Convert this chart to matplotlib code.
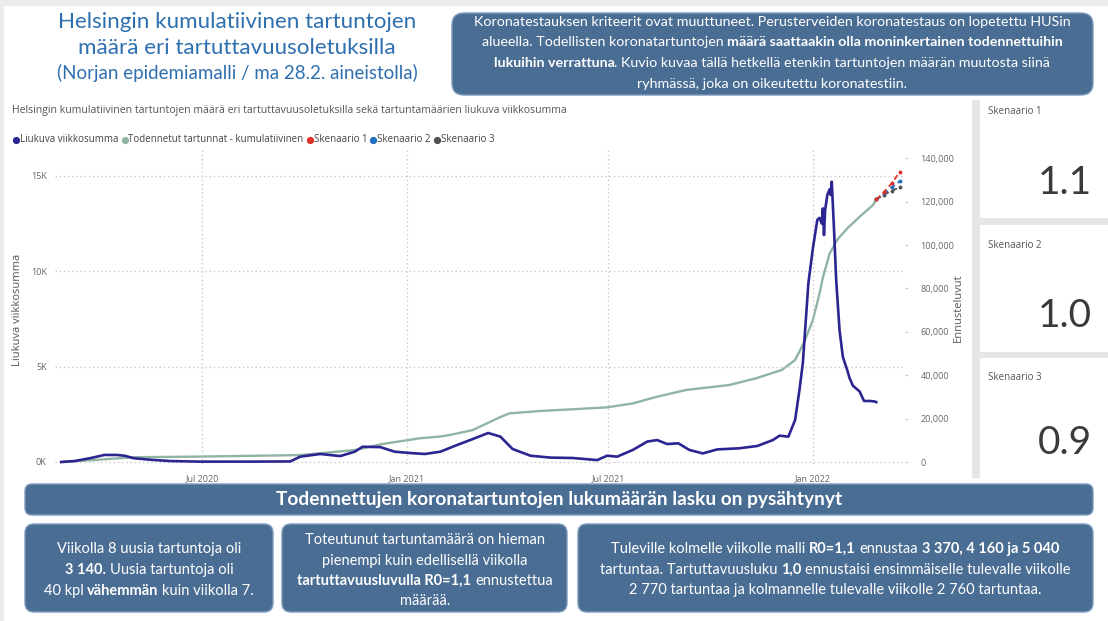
import numpy as np
import pandas as pd
import matplotlib
matplotlib.use("Agg")
import matplotlib.pyplot as plt
import matplotlib.dates as mdates
from matplotlib.patches import FancyBboxPatch, Rectangle
from matplotlib.ticker import FuncFormatter, FixedLocator

#-------------------------------------------------------------
# data
#-------------------------------------------------------------
week_dates = ["2020-02-25", "2020-03-08", "2020-03-22", "2020-04-04", "2020-04-15", "2020-04-22",
              "2020-04-30", "2020-05-15", "2020-06-02", "2020-06-29", "2020-08-13", "2020-09-18",
              "2020-09-27", "2020-10-15", "2020-11-02", "2020-11-15", "2020-11-22", "2020-12-08",
              "2020-12-21", "2021-01-04", "2021-01-17", "2021-01-31", "2021-02-15", "2021-03-01",
              "2021-03-15", "2021-03-26", "2021-04-06", "2021-04-22", "2021-05-10", "2021-05-30",
              "2021-06-21", "2021-06-30", "2021-07-09", "2021-07-23", "2021-08-05", "2021-08-14",
              "2021-08-23", "2021-09-02", "2021-09-12", "2021-09-24", "2021-10-07", "2021-10-27",
              "2021-11-12", "2021-11-26", "2021-12-02", "2021-12-10", "2021-12-16", "2021-12-20",
              "2021-12-23", "2021-12-25", "2021-12-28", "2022-01-01", "2022-01-05", "2022-01-07",
              "2022-01-09", "2022-01-10", "2022-01-11", "2022-01-12", "2022-01-14", "2022-01-16",
              "2022-01-17", "2022-01-18", "2022-01-20", "2022-01-22", "2022-01-25", "2022-01-28",
              "2022-02-01", "2022-02-03", "2022-02-06", "2022-02-12", "2022-02-16", "2022-02-21",
              "2022-02-25", "2022-02-27"]
week_sum = [0, 50, 200, 370, 370, 330,
            200, 120, 50, 20, 20, 30,
            280, 420, 310, 540, 800, 780,
            540, 470, 420, 540, 890, 1200,
            1520, 1330, 680, 330, 230, 210,
            100, 330, 280, 630, 1070, 1150,
            940, 980, 630, 450, 660, 720,
            840, 1150, 1380, 1330, 2200, 3800,
            5200, 6900, 9400, 11200, 12700, 12800,
            12500, 13300, 11900, 13200, 14000, 14300,
            14000, 14700, 12200, 9500, 6900, 5500,
            4800, 4400, 4000, 3700, 3200, 3200,
            3180, 3140]

cum_dates = ["2020-02-25", "2020-03-31", "2020-04-30", "2020-06-29", "2020-09-27", "2020-11-15",
             "2020-12-10", "2021-01-12", "2021-01-30", "2021-02-08", "2021-03-01", "2021-03-25",
             "2021-04-03", "2021-04-30", "2021-05-30", "2021-06-30", "2021-07-23", "2021-08-14",
             "2021-09-09", "2021-10-18", "2021-11-11", "2021-12-04", "2021-12-16", "2021-12-24",
             "2022-01-01", "2022-01-07", "2022-01-10", "2022-01-16", "2022-01-23", "2022-02-01",
             "2022-02-12", "2022-02-24", "2022-02-27"]
cum_cases = [0, 1100, 2200, 2500, 3200, 5500,
             8300, 10900, 11700, 12400, 14700, 20500,
             22400, 23500, 24300, 25200, 27000, 30100,
             33200, 35500, 38600, 42400, 47000, 55000,
             65400, 77700, 85000, 96000, 102500, 107700,
             113000, 118400, 121000]

scen_dates = ["2022-02-27", "2022-03-06", "2022-03-13", "2022-03-20"]
scen_1 = [121000, 124370, 128530, 133570]
scen_2 = [121000, 123770, 126600, 129360]
scen_3 = [121000, 123200, 125000, 126600]

scen_names = ["Skenaario 1", "Skenaario 2", "Skenaario 3"]
scen_r0 = ["1.1", "1.0", "0.9"]

left_ticks = [0, 5000, 10000, 15000]
right_ticks = [0, 20000, 40000, 60000, 80000, 100000, 120000, 140000]
x_ticks = ["2020-07-01", "2021-01-01", "2021-07-01", "2022-01-01"]
x_ticklabels = ["Jul 2020", "Jan 2021", "Jul 2021", "Jan 2022"]

#-------------------------------------------------------------
# styles
#-------------------------------------------------------------
W, H = 1108, 621
CAL = ["Lato", "DejaVu Sans"]        # stands in for Calibri
UI = ["Open Sans", "DejaVu Sans"]    # stands in for Segoe UI
plt.rcParams["font.family"] = UI
C_WEEK = "#2c2591"
C_CUM = "#8fb4a2"
C_S1 = "#e0302a"
C_S2 = "#1f70c1"
C_S3 = "#505050"
BOX = "#4a6d94"
BOX_EDGE = "#7d9bbd"
GRID = "#c9c9c9"

fig = plt.figure(figsize=(W / 100, H / 100), dpi=100, facecolor="white")

# overlay in pixel coords for boxes / text
ov = fig.add_axes([0, 0, 1, 1])
ov.set_xlim(0, W)
ov.set_ylim(H, 0)
ov.axis("off")
renderer = fig.canvas.get_renderer()

ov.add_patch(Rectangle((0, 0), W, 6, color="#ececec", lw=0))
ov.add_patch(Rectangle((0, 0), 4, H, color="#ececec", lw=0))


def box(x0, y0, x1, y1, r=9):
    ov.add_patch(FancyBboxPatch((x0 + r, y0 + r), x1 - x0 - 2 * r, y1 - y0 - 2 * r,
                                boxstyle="round,pad=%d" % r, fc=BOX, ec=BOX_EDGE, lw=1.0))


def tw(s, size, bold, family):
    t = ov.text(0, 0, "|" + s + "|", fontsize=size, family=family,
                fontweight="bold" if bold else "normal")
    w = t.get_window_extent(renderer).width
    t.remove()
    return w


def line_width(parts, size, family):
    bars = {b: tw("", size, b, family) for b in (False, True)}
    return sum(tw(s, size, b, family) - bars[b] for s, b in parts)


def fit(parts, target, family=CAL):
    # font size that makes this line as wide as in the reference
    return 10.0 * target / line_width(parts, 10.0, family)


def rich(xc, y, parts, size, color="white", family=CAL):
    bars = {b: tw("", size, b, family) for b in (False, True)}
    adv = [tw(s, size, b, family) - bars[b] for s, b in parts]
    x = xc - sum(adv) / 2
    for (s, b), a in zip(parts, adv):
        core = s.lstrip()
        lead = len(s) - len(core)
        off = tw(" " * lead, size, b, family) - bars[b] if lead else 0
        ov.text(x + off, y, core.rstrip(), fontsize=size, family=family, color=color,
                fontweight="bold" if b else "normal", ha="left", va="center")
        x += a


# title
TITLE_C = "#2e6fb0"
t1 = "Helsingin kumulatiivinen tartuntojen"
ts = min(fit([(t1, False)], 358), 17)
ov.text(237, 22, t1, fontsize=ts, family=CAL, color=TITLE_C, ha="center", va="center")
ov.text(237, 48, "määrä eri tartuttavuusoletuksilla", fontsize=ts, family=CAL,
        color=TITLE_C, ha="center", va="center")
t3 = "(Norjan epidemiamalli / ma 28.2. aineistolla)"
ov.text(237, 73, t3, fontsize=min(fit([(t3, False)], 360), 14), family=CAL,
        color=TITLE_C, ha="center", va="center")

# info box top right
box(452, 13, 1093, 95, r=12)
top_lines = [
    [("Koronatestauksen kriteerit ovat muuttuneet. Perusterveiden koronatestaus on lopetettu HUSin", False)],
    [("alueella. Todellisten koronatartuntojen ", False),
     ("määrä saattaakin olla moninkertainen todennettuihin", True)],
    [("lukuihin verrattuna", True),
     (". Kuvio kuvaa tällä hetkellä etenkin tartuntojen määrän muutosta siinä", False)],
    [("ryhmässä, joka on oikeutettu koronatestiin.", False)],
]
fs = min(fit(top_lines[0], 598), 11)
for parts, y in zip(top_lines, [22, 42, 63, 84]):
    rich(772, y, parts, fs)

# banner + bottom boxes
box(25, 484, 1093, 515, r=7)
ban = [("Todennettujen koronatartuntojen lukumäärän lasku on pysähtynyt", True)]
rich(559, 499.5, ban, min(fit(ban, 567), 14))

box(25, 524, 273, 612)
a_lines = [
    [("Viikolla 8 uusia tartuntoja oli", False)],
    [("3 140.", True), (" Uusia tartuntoja oli", False)],
    [("40 kpl ", False), ("vähemmän", True), (" kuin viikolla 7.", False)],
]
box(282, 524, 567, 612)
b_lines = [
    [("Toteutunut tartuntamäärä on hieman", False)],
    [("pienempi kuin edellisellä viikolla", False)],
    [("tartuttavuusluvulla R0=1,1", True), (" ennustettua", False)],
    [("määrää.", False)],
]
box(578, 524, 1093, 612)
c_lines = [
    [("Tuleville kolmelle viikolle malli ", False), ("R0=1,1", True),
     (" ennustaa ", False), ("3 370, 4 160 ja 5 040", True)],
    [("tartuntaa. Tartuttavuusluku ", False), ("1,0", True),
     (" ennustaisi ensimmäiselle tulevalle viikolle", False)],
    [("2 770 tartuntaa ja kolmannelle tulevalle viikolle 2 760 tartuntaa.", False)],
]
bs = min(fit(a_lines[2], 216), fit(b_lines[2], 258), fit(c_lines[1], 466), 11)
for parts, y in zip(a_lines, [549, 570, 591]):
    rich(149, y, parts, bs)
for parts, y in zip(b_lines, [540, 561, 581, 601]):
    rich(425, y, parts, bs)
for parts, y in zip(c_lines, [549, 570, 590]):
    rich(835, y, parts, bs)

# scenario cards on the right
ov.add_patch(Rectangle((972, 100), 8, 378, color="#e6e6e6", lw=0))
ov.add_patch(Rectangle((980, 218), W - 980, 7, color="#e6e6e6", lw=0))
ov.add_patch(Rectangle((980, 352), W - 980, 6, color="#e6e6e6", lw=0))
for name, val, ly, vy in zip(scen_names, scen_r0, [112, 245, 378], [183, 316, 443]):
    ov.text(988, ly, name, fontsize=7, family=UI, color="#555555", va="center")
    ov.text(1092, vy, val, fontsize=28, family=CAL, fontweight="normal", color="#3a3a3a",
            ha="right", va="center")

# chart subtitle + legend
sub = "Helsingin kumulatiivinen tartuntojen määrä eri tartuttavuusoletuksilla sekä tartuntamäärien liukuva viikkosumma"
ov.text(12, 110, sub, fontsize=min(fit([(sub, False)], 556, UI), 8), family=UI,
        color="#555555", va="center")
leg = [("Liukuva viikkosumma", C_WEEK), ("Todennetut tartunnat - kumulatiivinen", C_CUM),
       ("Skenaario 1", C_S1), ("Skenaario 2", C_S2), ("Skenaario 3", C_S3)]
ls = 7.0
lx = 16
bar0 = tw("", ls, False, UI)
for lab, col in leg:
    ov.plot([lx], [140], "o", ms=4.2, color=col)
    ov.text(lx + 4, 140, lab, fontsize=ls, family=UI, color="#444444", va="center")
    lx += tw(lab, ls, False, UI) - bar0 + 10

#-------------------------------------------------------------
# the chart itself
#-------------------------------------------------------------
ax = fig.add_axes([55 / W, 1 - 464 / H, 850 / W, 314 / H])
ax2 = ax.twinx()
ax.set_zorder(ax2.get_zorder() + 1)
ax.patch.set_visible(False)

d0 = mdates.date2num(pd.Timestamp("2020-01-01"))
ax.set_xlim(d0 + 55 / 1.112, d0 + 905 / 1.112)
ax.set_ylim(-105, 16360)
ax2.set_ylim(-920, 143800)

ax2.plot(pd.to_datetime(cum_dates), cum_cases, color=C_CUM, lw=1.7, solid_capstyle="round")
sd = pd.to_datetime(scen_dates)
ax2.plot(sd, scen_3, color=C_S3, lw=1.3, ls=(0, (3, 2)), marker="o", ms=1.8)
ax2.plot(sd, scen_2, color=C_S2, lw=1.3, ls=(0, (3, 2)), marker="o", ms=1.8)
ax2.plot(sd, scen_1, color=C_S1, lw=1.3, ls=(0, (3, 2)), marker="o", ms=1.8)
ax.plot(pd.to_datetime(week_dates), week_sum, color=C_WEEK, lw=1.9, solid_joinstyle="round")

ax.xaxis.set_major_locator(FixedLocator(mdates.date2num(pd.to_datetime(x_ticks))))
ax.set_xticklabels(x_ticklabels)
ax.yaxis.set_major_locator(FixedLocator(left_ticks))
ax.yaxis.set_major_formatter(FuncFormatter(lambda v, p: "%dK" % (v / 1000)))
ax2.yaxis.set_major_locator(FixedLocator(right_ticks))
ax2.yaxis.set_major_formatter(FuncFormatter(lambda v, p: "{:,.0f}".format(v)))

ax.grid(True, color=GRID, ls=(0, (1, 2)), lw=1)
for a in (ax, ax2):
    for s in a.spines.values():
        s.set_visible(False)
ax.tick_params(axis="both", length=0, labelsize=6.5, labelcolor="#666666")
ax.tick_params(axis="x", pad=7)
ax.tick_params(axis="y", pad=6)
ax2.tick_params(axis="y", length=2, color="#cccccc", labelsize=6.5, labelcolor="#666666", pad=9)

fig.text(18 / W, 1 - 310 / H, "Liukuva viikkosumma", rotation=90, fontsize=8, family=UI,
         color="#555555", ha="center", va="center")
fig.text(958 / W, 1 - 308 / H, "Ennusteluvut", rotation=90, fontsize=8, family=UI,
         color="#555555", ha="center", va="center")

fig.savefig("out.png", dpi=100, facecolor="white")
